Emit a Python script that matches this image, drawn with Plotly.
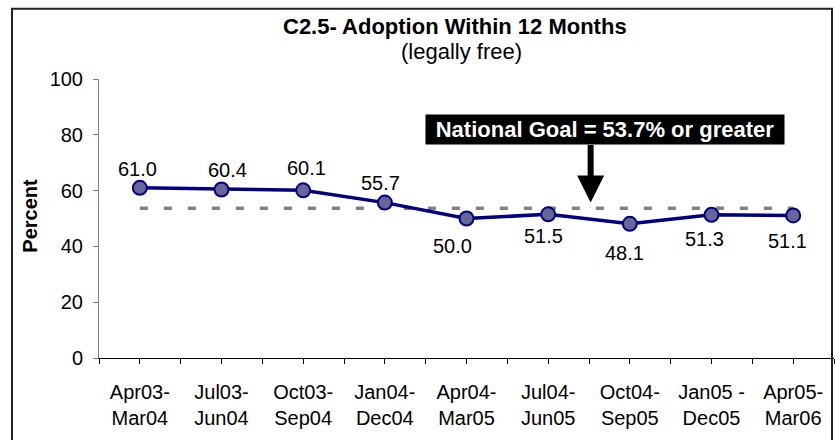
import plotly.graph_objects as go

# ---- data ----
categories = ["Apr03-<br>Mar04", "Jul03-<br>Jun04", "Oct03-<br>Sep04", "Jan04-<br>Dec04",
              "Apr04-<br>Mar05", "Jul04-<br>Jun05", "Oct04-<br>Sep05", "Jan05 -<br>Dec05",
              "Apr05-<br>Mar06"]
adoption_pct = [61.0, 60.4, 60.1, 55.7, 50.0, 51.5, 48.1, 51.3, 51.1]
national_goal = 53.7
y_ticks = [0, 20, 40, 60, 80, 100]

title_text = "C2.5- Adoption Within 12 Months"
subtitle_text = "(legally free)"
goal_text = "National Goal = 53.7% or greater"
y_title = "Percent"

# label offsets (pixels) for data labels
label_dx = [-2, 6, 3, -4, -14, -5, -5, -7, -6]
label_dy = [19, 19, 22, 20, -27, -22, -29, -24, -26]

FONT = "Liberation Sans, Arial, sans-serif"
x_idx = list(range(len(categories)))

fig = go.Figure()

fig.add_trace(go.Scatter(
    x=x_idx, y=[national_goal] * len(categories),
    mode="lines",
    line=dict(color="#808080", width=3.5, dash="8px,16px"),
    hoverinfo="skip", showlegend=False,
))

fig.add_trace(go.Scatter(
    x=x_idx, y=adoption_pct,
    mode="lines+markers",
    line=dict(color="#000080", width=3.5),
    marker=dict(size=14, color="#666699", line=dict(color="#000080", width=2)),
    showlegend=False,
))

annotations = []
for i, v in enumerate(adoption_pct):
    annotations.append(dict(
        x=i, y=v, xref="x", yref="y", text=f"{v:.1f}", showarrow=False,
        xanchor="center", yanchor="middle", xshift=label_dx[i], yshift=label_dy[i],
        font=dict(family=FONT, size=20, color="#000000"),
    ))

# titles
annotations.append(dict(
    x=0.485, y=1.1875, xref="paper", yref="paper", text=f"<b>{title_text}</b>",
    showarrow=False, xanchor="center", yanchor="middle",
    font=dict(family=FONT, size=22, color="#000000"),
))
annotations.append(dict(
    x=0.493, y=1.098, xref="paper", yref="paper", text=subtitle_text,
    showarrow=False, xanchor="center", yanchor="middle",
    font=dict(family=FONT, size=22, color="#000000"),
))
annotations.append(dict(
    x=-0.0939, y=0.51, xref="paper", yref="paper", text=f"<b>{y_title}</b>",
    showarrow=False, xanchor="center", yanchor="middle", textangle=-90,
    font=dict(family=FONT, size=20, color="#000000"),
))

# goal callout box
annotations.append(dict(
    x=0.6884, y=0.820, xref="paper", yref="paper", text=f"<b>{goal_text}</b>",
    showarrow=False, xanchor="center", yanchor="middle",
    bgcolor="#000000", width=354, height=25, borderpad=2,
    font=dict(family=FONT, size=22, color="#ffffff"),
))
# arrow
annotations.append(dict(
    x=5.52, y=55.7, xref="x", yref="y", text="", showarrow=True,
    ax=0, ay=-59, arrowhead=2, arrowwidth=6, arrowsize=0.9, arrowcolor="#000000",
))

fig.update_layout(
    width=835, height=440,
    margin=dict(l=99, r=1, t=79, b=82, autoexpand=False),
    paper_bgcolor="#ffffff", plot_bgcolor="#ffffff",
    font=dict(family=FONT, size=20, color="#000000"),
    annotations=annotations,
    hovermode=False,
    shapes=[dict(
        type="rect", xref="paper", yref="paper",
        x0=-0.1184, x1=0.9973, y0=-0.31, y1=1.252,
        line=dict(color="#222222", width=2), fillcolor="rgba(0,0,0,0)",
        layer="above",
    )],
)

fig.update_xaxes(
    range=[-0.5, 8.5], tickvals=x_idx, ticktext=categories,
    showgrid=False, zeroline=False, automargin=False,
    showline=True, linecolor="#000000", linewidth=1,
    ticks="outside", ticklen=5, tickcolor="#000000", ticklabelstandoff=11,
    minor=dict(ticks="outside", ticklen=5, tickcolor="#000000", dtick=0.5, tick0=-0.5, showgrid=False),
    tickfont=dict(family=FONT, size=20, color="#000000"),
)
fig.update_yaxes(
    range=[0, 100], tickvals=y_ticks,
    showgrid=False, zeroline=False, automargin=False,
    showline=True, linecolor="#808080", linewidth=1,
    ticks="outside", ticklen=5, tickcolor="#808080", ticklabelstandoff=6,
    tickfont=dict(family=FONT, size=20, color="#000000"),
)

fig.write_html(
    "out.html",
    config={"displayModeBar": False},
    post_script="document.body.style.margin='0';document.body.style.overflow='hidden';",
)
